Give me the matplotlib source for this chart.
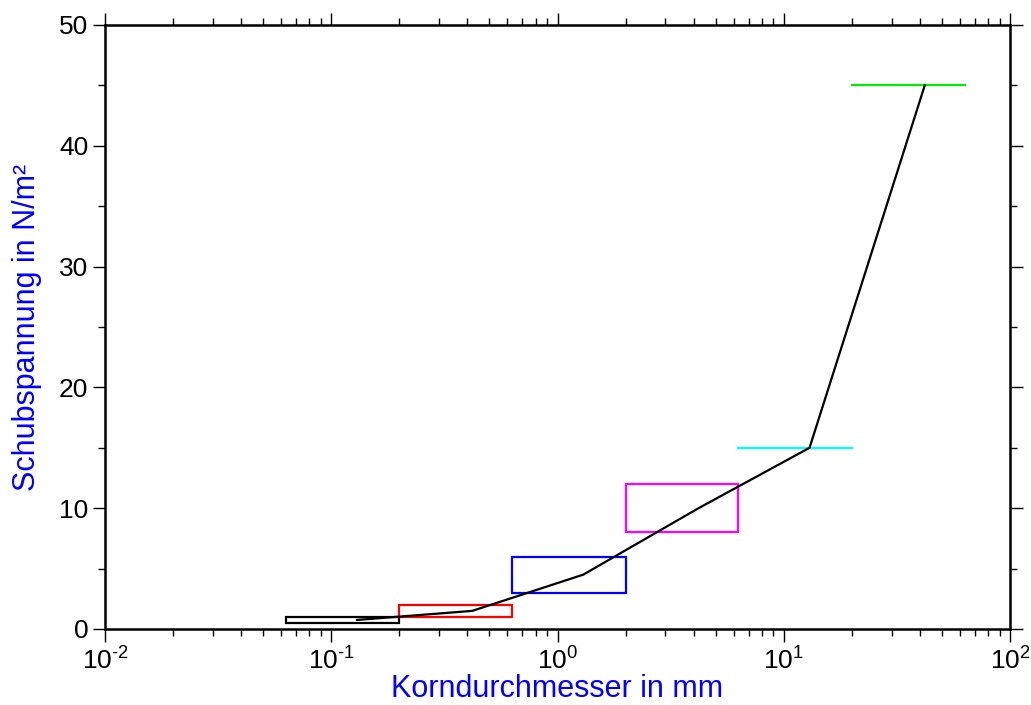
import matplotlib
matplotlib.use("Agg")
import matplotlib.pyplot as plt
from matplotlib.patches import Rectangle
from matplotlib.ticker import MultipleLocator, LogLocator, NullFormatter, FuncFormatter
import numpy as np

plt.rcParams['font.family'] = ['Liberation Sans', 'DejaVu Sans']
plt.rcParams['mathtext.fontset'] = 'custom'
plt.rcParams['mathtext.rm'] = 'Liberation Sans'
plt.rcParams['mathtext.default'] = 'regular'

# Kornklassen: Korndurchmesser-Bereich und Schubspannungs-Bereich
klassen_dmin = [0.063, 0.2, 0.63, 2.0]
klassen_dmax = [0.2, 0.63, 2.0, 6.3]
klassen_tmin = [0.5, 1.0, 3.0, 8.0]
klassen_tmax = [1.0, 2.0, 6.0, 12.0]
klassen_farben = ['black', 'red', 'blue', 'magenta']

# Einzelwerte als Linien
linien_dmin = [6.3, 20.0]
linien_dmax = [20.0, 63.0]
linien_tau = [15.0, 45.0]
linien_farben = ['cyan', '#00ee00']

# Mittelwertkurve
kurve_d = [0.13, 0.42, 1.3, 4.2, 13.0, 42.0]
kurve_tau = [0.75, 1.5, 4.5, 10.0, 15.0, 45.0]


def zehnerpotenz(x, pos):
    e = int(round(np.log10(x)))
    s = str(e).replace('-', '\u2010')
    return r'$10^{%s}$' % s


fig = plt.figure(figsize=(10.31, 7.05), dpi=100)
ax = fig.add_axes([105/1031, 1 - 629/705, 905/1031, 604/705])
ax.set_xscale('log')

for d0, d1, t0, t1, c in zip(klassen_dmin, klassen_dmax, klassen_tmin, klassen_tmax, klassen_farben):
    ax.add_patch(Rectangle((d0, t0), d1 - d0, t1 - t0, fill=False, edgecolor=c, lw=1.6))

for d0, d1, t, c in zip(linien_dmin, linien_dmax, linien_tau, linien_farben):
    ax.plot([d0, d1], [t, t], color=c, lw=1.6)

ax.plot(kurve_d, kurve_tau, color='black', lw=1.6)

ax.set_xlim(1e-2, 1e2)
ax.set_ylim(0, 50)
ax.yaxis.set_major_locator(MultipleLocator(10))
ax.yaxis.set_minor_locator(MultipleLocator(5))
ax.xaxis.set_major_locator(LogLocator(base=10, numticks=10))
ax.xaxis.set_major_formatter(FuncFormatter(zehnerpotenz))
ax.xaxis.set_minor_locator(LogLocator(base=10, subs=range(2, 10), numticks=20))
ax.xaxis.set_minor_formatter(NullFormatter())

for s in ax.spines.values():
    s.set_linewidth(1.8)
ax.tick_params(which='both', direction='out', top=True, right=True, width=1.0, labelsize=19)
ax.tick_params(which='major', length=9)
ax.tick_params(which='minor', length=5)
ax.tick_params(axis='x', which='major', pad=4)
ax.tick_params(axis='y', which='major', pad=3)

ax.set_xlabel('Korndurchmesser in mm', color='blue', fontsize=22, labelpad=0)
ax.set_ylabel('Schubspannung in N/m²', color='blue', fontsize=22, labelpad=12)

fig.savefig('out.png', dpi=100)
